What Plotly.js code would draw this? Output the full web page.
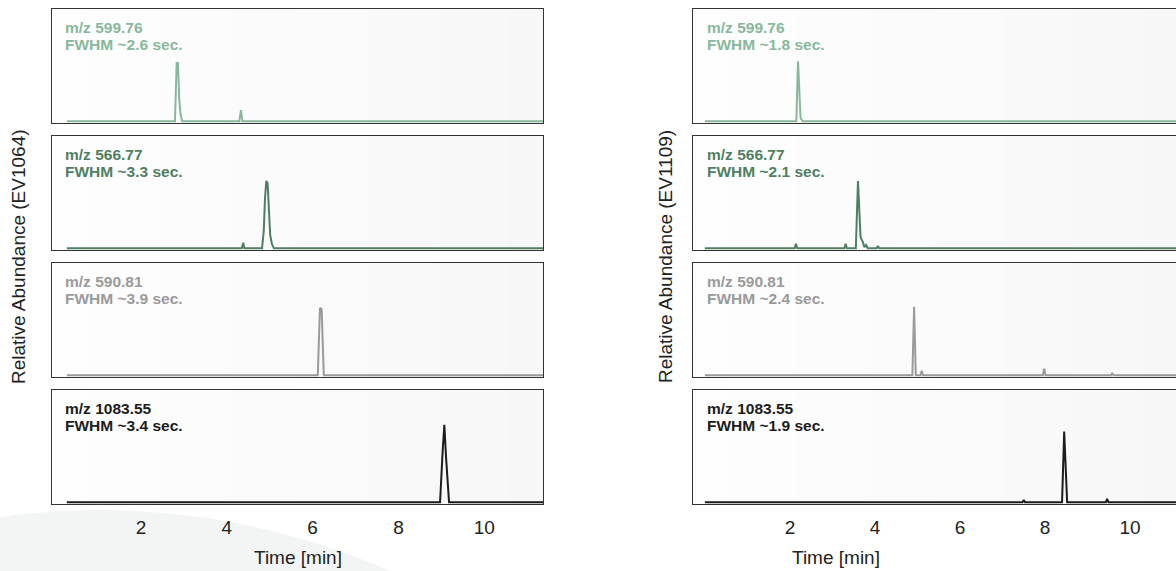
<!DOCTYPE html>
<html>
<head>
<meta charset="utf-8">
<script src="https://cdn.plot.ly/plotly-3.0.1.min.js"></script>
<style>
  html, body { margin: 0; padding: 0; background: #ffffff; }
  #chart { width: 1176px; height: 571px; }
</style>
</head>
<body>
<div id="chart"></div>
<script>
// ---------------- DATA ----------------
const tickVals = [2, 4, 6, 8, 10];
const tickText = ["2", "4", "6", "8", "10"];
const xTitle = "Time [min]";
const yTitleLeft = "Relative Abundance (EV1064)";
const yTitleRight = "Relative Abundance (EV1109)";

const labelsMz = ["m/z 599.76", "m/z 566.77", "m/z 590.81", "m/z 1083.55"];
const fwhmLeft = ["FWHM ~2.6 sec.", "FWHM ~3.3 sec.", "FWHM ~3.9 sec.", "FWHM ~3.4 sec."];
const fwhmRight = ["FWHM ~1.8 sec.", "FWHM ~2.1 sec.", "FWHM ~2.4 sec.", "FWHM ~1.9 sec."];
const seriesColors = ["#88b89c", "#4f7f63", "#9a9a9a", "#1c1c1c"];

// EV1064 (left column)
const L1_t = [0.27, 2.79, 2.83, 2.86, 2.89, 2.92, 2.96, 4.29, 4.33, 4.36, 11.4];
const L1_y = [0, 0, 0.52, 0.52, 0.2, 0.06, 0, 0, 0.1, 0, 0];
const L2_t = [0.27, 4.35, 4.38, 4.41, 4.82, 4.86, 4.89, 4.92, 4.95, 4.98, 5.01, 5.05, 5.10, 11.4];
const L2_y = [0, 0, 0.05, 0, 0, 0.15, 0.45, 0.6, 0.58, 0.35, 0.12, 0.04, 0, 0];
const L3_t = [0.27, 6.12, 6.17, 6.21, 6.26, 11.4];
const L3_y = [0, 0, 0.6, 0.59, 0, 0];
const L4_t = [0.27, 8.97, 9.03, 9.07, 9.11, 9.18, 11.4];
const L4_y = [0, 0, 0.45, 0.69, 0.4, 0, 0];

// EV1109 (right column)
const R1_t = [0.0, 2.15, 2.19, 2.22, 2.25, 2.30, 11.4];
const R1_y = [0, 0, 0.535, 0.2, 0.03, 0, 0];
const R2_t = [0.0, 2.11, 2.14, 2.17, 3.28, 3.31, 3.34, 3.55, 3.60, 3.66, 3.72, 3.75, 3.79, 3.83, 4.04, 4.07, 4.10, 11.4];
const R2_y = [0, 0, 0.04, 0, 0, 0.04, 0, 0, 0.6, 0.1, 0.05, 0.01, 0.03, 0, 0, 0.02, 0, 0];
const R3_t = [0.0, 4.88, 4.92, 4.96, 5.07, 5.10, 5.13, 7.95, 7.98, 8.01, 9.55, 9.58, 9.61, 11.4];
const R3_y = [0, 0, 0.61, 0, 0, 0.04, 0, 0, 0.06, 0, 0, 0.02, 0, 0];
const R4_t = [0.0, 7.47, 7.50, 7.53, 8.40, 8.45, 8.52, 9.43, 9.46, 9.49, 11.4];
const R4_y = [0, 0, 0.02, 0, 0, 0.63, 0, 0, 0.03, 0, 0];

const leftSeries = [[L1_t, L1_y], [L2_t, L2_y], [L3_t, L3_y], [L4_t, L4_y]];
const rightSeries = [[R1_t, R1_y], [R2_t, R2_y], [R3_t, R3_y], [R4_t, R4_y]];

// ---------------- LAYOUT HELPERS ----------------
const W = 1176, H = 571, MT = 9, MB = 67;
const PH = H - MT - MB;
const py = (ypx) => (H - MB - ypx) / PH;
const px = (xpx) => xpx / W;

const panelTops = [9, 136, 263, 390];
const panelBottoms = [123, 250, 377, 504];
const colDomains = [[px(52), px(543)], [px(693), 1]];
const colRanges = [[-0.076, 11.37], [-0.28, 11.08]];
const textX = [63, 705];
const FONT = "Arial, 'Liberation Sans', Helvetica, sans-serif";

const traces = [];
const layout = {
  width: W, height: H,
  margin: { l: 0, r: 0, t: MT, b: MB },
  paper_bgcolor: "#ffffff",
  plot_bgcolor: "#fdfdfd",
  showlegend: false,
  font: { family: FONT, color: "#222" },
  annotations: [],
  shapes: [{
    type: "circle", xref: "paper", yref: "paper", layer: "below",
    x0: px(100 - 720), x1: px(100 + 720), y0: py(510), y1: py(1950),
    fillcolor: "#f3f5f5", line: { width: 0 }
  }]
};

// subtle horizontal background gradient inside each panel
const NSTRIP = 14;
function stripColor(i) {
  const v = Math.round(254 - (i / (NSTRIP - 1)) * 7);
  return "rgb(" + v + "," + v + "," + v + ")";
}

[leftSeries, rightSeries].forEach((series, c) => {
  series.forEach((s, r) => {
    const idx = c * 4 + r + 1;
    const xa = "xaxis" + idx, ya = "yaxis" + idx;
    const isBottom = r === 3;
    traces.push({
      type: "scatter", mode: "lines",
      x: s[0], y: s[1],
      xaxis: "x" + idx, yaxis: "y" + idx,
      line: { color: seriesColors[r], width: 2 },
      hoverinfo: "skip"
    });
    layout[xa] = {
      domain: colDomains[c], range: colRanges[c], anchor: "y" + idx,
      showline: true, mirror: true, linecolor: "#333", linewidth: 1,
      showgrid: false, zeroline: false, ticks: "",
      tickvals: tickVals, ticktext: tickText,
      showticklabels: isBottom,
      tickfont: { family: FONT, size: 19, color: "#222" },
      ticklabelstandoff: 6
    };
    layout[ya] = {
      domain: [py(panelBottoms[r]), py(panelTops[r])], range: [-0.015, 1],
      anchor: "x" + idx,
      showline: true, mirror: true, linecolor: "#333", linewidth: 1,
      showgrid: false, zeroline: false, ticks: "", showticklabels: false
    };
    for (let i = 0; i < NSTRIP; i++) {
      layout.shapes.push({
        type: "rect", layer: "below",
        xref: "x" + idx + " domain", yref: "y" + idx + " domain",
        x0: i / NSTRIP, x1: (i + 1) / NSTRIP + 0.002, y0: 0, y1: 1,
        fillcolor: stripColor(i), line: { width: 0 }
      });
    }
    const fw = c === 0 ? fwhmLeft[r] : fwhmRight[r];
    layout.annotations.push({
      xref: "paper", yref: "paper",
      x: px(textX[c]), y: py(panelTops[r] + 18),
      xanchor: "left", yanchor: "middle", align: "left", showarrow: false,
      text: "<b>" + labelsMz[r] + "</b>",
      font: { family: FONT, size: 15.5, color: seriesColors[r] }
    }, {
      xref: "paper", yref: "paper",
      x: px(textX[c]), y: py(panelTops[r] + 35.5),
      xanchor: "left", yanchor: "middle", align: "left", showarrow: false,
      text: "<b>" + fw + "</b>",
      font: { family: FONT, size: 15.5, color: seriesColors[r] }
    });
  });
});

// axis titles as annotations
layout.annotations.push(
  { xref: "paper", yref: "paper", x: px(18), y: py(257), textangle: -90,
    text: yTitleLeft, showarrow: false, xanchor: "center", yanchor: "middle",
    font: { family: FONT, size: 19, color: "#222" } },
  { xref: "paper", yref: "paper", x: px(665), y: py(257), textangle: -90,
    text: yTitleRight, showarrow: false, xanchor: "center", yanchor: "middle",
    font: { family: FONT, size: 19, color: "#222" } },
  { xref: "paper", yref: "paper", x: px(298), y: py(557),
    text: xTitle, showarrow: false, xanchor: "center", yanchor: "middle",
    font: { family: FONT, size: 19, color: "#222" } },
  { xref: "paper", yref: "paper", x: px(836), y: py(557),
    text: xTitle, showarrow: false, xanchor: "center", yanchor: "middle",
    font: { family: FONT, size: 19, color: "#222" } }
);

Plotly.newPlot("chart", traces, layout, { staticPlot: true, displayModeBar: false });
</script>
</body>
</html>
